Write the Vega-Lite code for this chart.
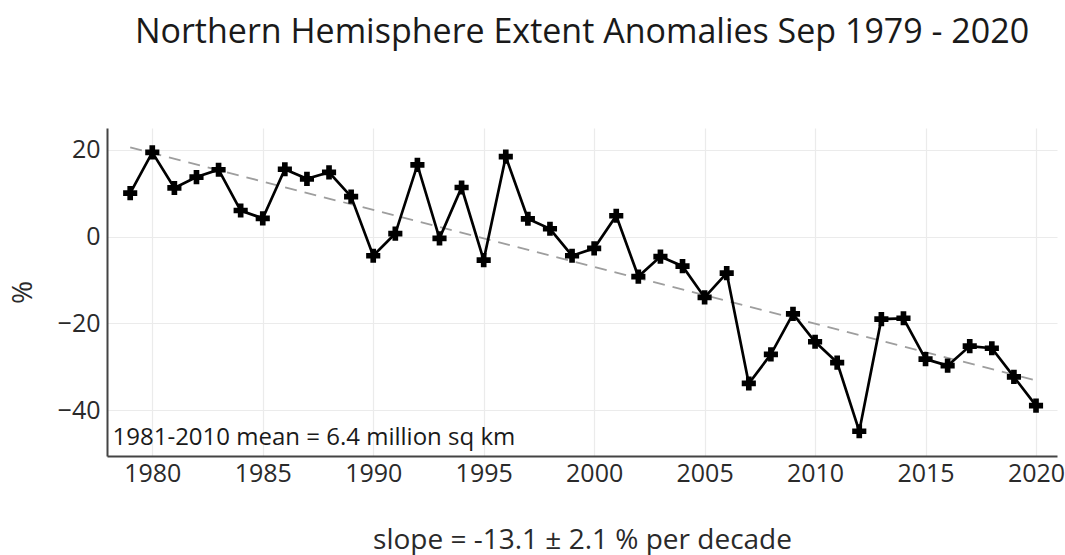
{
  "$schema": "https://vega.github.io/schema/vega-lite/v6.json",
  "autosize": {"type": "none"},
  "padding": {"left": 107, "top": 128, "right": 8, "bottom": 99},
  "width": 950,
  "height": 328,
  "background": "white",
  "config": {
    "font": "Open Sans",
    "view": {"stroke": null},
    "axis": {
      "gridColor": "#ebebeb",
      "gridWidth": 1.2,
      "domainColor": "#444444",
      "domainWidth": 2,
      "ticks": false,
      "labelColor": "#2a2a2a",
      "titleColor": "#2a2a2a",
      "labelFont": "Open Sans",
      "titleFont": "Open Sans",
      "titleFontWeight": "normal"
    }
  },
  "title": {
    "text": "Northern Hemisphere Extent Anomalies Sep 1979 - 2020",
    "anchor": "middle",
    "fontSize": 34,
    "fontWeight": "normal",
    "font": "Open Sans",
    "color": "#1a1a1a",
    "baseline": "alphabetic",
    "offset": 51
  },
  "data": {
    "values": [
      {"year": 1979, "anomaly": 10.0},
      {"year": 1980, "anomaly": 19.4},
      {"year": 1981, "anomaly": 11.2},
      {"year": 1982, "anomaly": 13.7},
      {"year": 1983, "anomaly": 15.4},
      {"year": 1984, "anomaly": 6.0},
      {"year": 1985, "anomaly": 4.2},
      {"year": 1986, "anomaly": 15.5},
      {"year": 1987, "anomaly": 13.3},
      {"year": 1988, "anomaly": 14.8},
      {"year": 1989, "anomaly": 9.2},
      {"year": 1990, "anomaly": -4.4},
      {"year": 1991, "anomaly": 0.7},
      {"year": 1992, "anomaly": 16.5},
      {"year": 1993, "anomaly": -0.4},
      {"year": 1994, "anomaly": 11.3},
      {"year": 1995, "anomaly": -5.4},
      {"year": 1996, "anomaly": 18.4},
      {"year": 1997, "anomaly": 4.1},
      {"year": 1998, "anomaly": 1.8},
      {"year": 1999, "anomaly": -4.4},
      {"year": 2000, "anomaly": -2.7},
      {"year": 2001, "anomaly": 4.8},
      {"year": 2002, "anomaly": -9.2},
      {"year": 2003, "anomaly": -4.6},
      {"year": 2004, "anomaly": -6.8},
      {"year": 2005, "anomaly": -14.0},
      {"year": 2006, "anomaly": -8.4},
      {"year": 2007, "anomaly": -33.8},
      {"year": 2008, "anomaly": -27.1},
      {"year": 2009, "anomaly": -17.8},
      {"year": 2010, "anomaly": -24.2},
      {"year": 2011, "anomaly": -29.0},
      {"year": 2012, "anomaly": -44.8},
      {"year": 2013, "anomaly": -19.0},
      {"year": 2014, "anomaly": -18.8},
      {"year": 2015, "anomaly": -28.2},
      {"year": 2016, "anomaly": -29.7},
      {"year": 2017, "anomaly": -25.2},
      {"year": 2018, "anomaly": -25.7},
      {"year": 2019, "anomaly": -32.3},
      {"year": 2020, "anomaly": -38.9}
    ]
  },
  "encoding": {
    "x": {
      "field": "year",
      "type": "quantitative",
      "scale": {"domain": [1977.95, 2020.95], "nice": false, "zero": false},
      "axis": {
        "values": [1980, 1985, 1990, 1995, 2000, 2005, 2010, 2015, 2020],
        "format": "d",
        "labelFontSize": 25,
        "labelPadding": 5,
        "title": "slope = -13.1 ± 2.1 % per decade",
        "titleFontSize": 28,
        "titlePadding": 40
      }
    },
    "y": {
      "field": "anomaly",
      "type": "quantitative",
      "scale": {"domain": [-50.5, 25], "nice": false, "zero": false},
      "axis": {
        "values": [-40, -20, 0, 20],
        "labelFontSize": 25,
        "labelPadding": 7,
        "title": "%",
        "titleFontSize": 28,
        "titlePadding": 20
      }
    }
  },
  "layer": [
    {
      "transform": [{"regression": "anomaly", "on": "year", "extent": [1979, 2020]}],
      "mark": {"type": "line", "color": "#9e9e9e", "strokeWidth": 1.8, "strokeDash": [12, 8]}
    },
    {
      "mark": {"type": "line", "color": "black", "strokeWidth": 2.7}
    },
    {
      "mark": {"type": "point", "shape": "cross", "filled": true, "color": "black", "size": 200, "opacity": 1}
    },
    {
      "data": {"values": [{"year": 1978.2, "anomaly": -48.0, "label": "1981-2010 mean = 6.4 million sq km"}]},
      "mark": {"type": "text", "align": "left", "baseline": "alphabetic", "fontSize": 24, "font": "Open Sans", "color": "#1a1a1a"},
      "encoding": {"text": {"field": "label"}}
    }
  ]
}
